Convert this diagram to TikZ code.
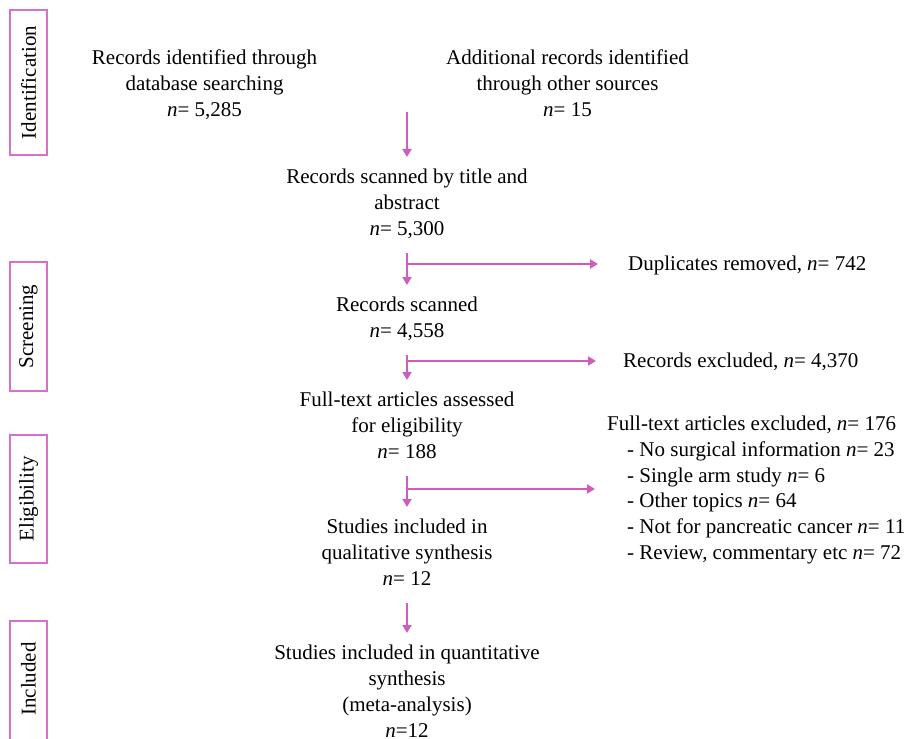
\documentclass[tikz,border=0pt]{standalone}
\usepackage{fontspec}
\setmainfont{Liberation Serif}
\usetikzlibrary{arrows.meta}
\definecolor{arrcol}{RGB}{210,92,190}
\definecolor{boxcol}{RGB}{214,112,200}
\begin{document}
\begin{tikzpicture}[x=1pt,y=-1pt,
  every node/.style={font=\fontsize{21}{25.8}\selectfont},
  mainbox/.style={align=center, inner xsep=0pt, inner ysep=12pt, text depth=5pt, anchor=north},
  sidebox/.style={draw=boxcol, line width=1.3pt, rotate=90, minimum height=37pt, inner sep=0pt},
  sidetext/.style={rotate=90, inner sep=0pt},
  sidelabel/.style={anchor=west, inner ysep=0pt, align=left},
  arr/.style={draw=arrcol, line width=2pt, -{Triangle[width=9pt,length=8pt]}}]
\useasboundingbox (0,0) rectangle (917,738);
% side boxes
\node[sidebox, minimum width=145pt] (idb) at (28.5,82.5) {Identification};
\node[sidebox, minimum width=129pt] (scb) at (28.5,326.5) {Screening};
\node[sidebox, minimum width=128pt] (elb) at (28.5,499) {Eligibility};
\node[sidetext] (inb) at (28.5,679) {Included};
\begin{scope}
  \clip (0,0) rectangle (917,738);
  \draw[draw=boxcol, line width=1.3pt] (10,760) -- (10,621) -- (47,621) -- (47,760);
\end{scope}
% top sources
\node[mainbox] (db) at (204.5,38) {Records identified through\\database searching\\\textit{n}= 5,285};
\node[mainbox] (ad) at (567.5,38) {Additional records identified\\through other sources\\\textit{n}= 15};
\coordinate (m) at (407,112);
% main column
\node[mainbox] (sc) at (407,157) {Records scanned by title and\\abstract\\\textit{n}= 5,300};
\node[mainbox] (rs) at (407,285) {Records scanned\\\textit{n}= 4,558};
\node[mainbox] (fa) at (407,380) {Full-text articles assessed\\for eligibility\\\textit{n}= 188};
\node[mainbox] (sq) at (407,507) {Studies included in\\qualitative synthesis\\\textit{n}= 12};
\node[mainbox] (sqt) at (407,633) {Studies included in quantitative\\synthesis\\(meta-analysis)\\\textit{n}=12};
% right side
\node[sidelabel, inner xsep=30pt] (dup) at (598,265) {Duplicates removed, \textit{n}= 742};
\node[sidelabel, inner xsep=27pt] (exc) at (596,362) {Records excluded, \textit{n}= 4,370};
\node[sidelabel, inner xsep=12pt] (fte) at (595,490) {Full-text articles excluded, \textit{n}= 176\\
\hspace*{20pt}- No surgical information \textit{n}= 23\\
\hspace*{20pt}- Single arm study \textit{n}= 6\\
\hspace*{20pt}- Other topics \textit{n}= 64\\
\hspace*{20pt}- Not for pancreatic cancer \textit{n}= 11\\
\hspace*{20pt}- Review, commentary etc \textit{n}= 72};
% junctions
\coordinate (j1) at (407,264);
\coordinate (j2) at (407,361);
\coordinate (j3) at (407,489);
% arrows
\draw[arr] (m) -- (sc.north);
\draw[arr] (sc.south) -- (rs.north);
\draw[arr] (rs.south) -- (fa.north);
\draw[arr] (fa.south) -- (sq.north);
\draw[arr] (sq.south) -- (sqt.north);
\draw[arr] (j1) -- (j1 -| dup.west);
\draw[arr] (j2) -- (j2 -| exc.west);
\draw[arr] (j3) -- (j3 -| fte.west);
\end{tikzpicture}
\end{document}
